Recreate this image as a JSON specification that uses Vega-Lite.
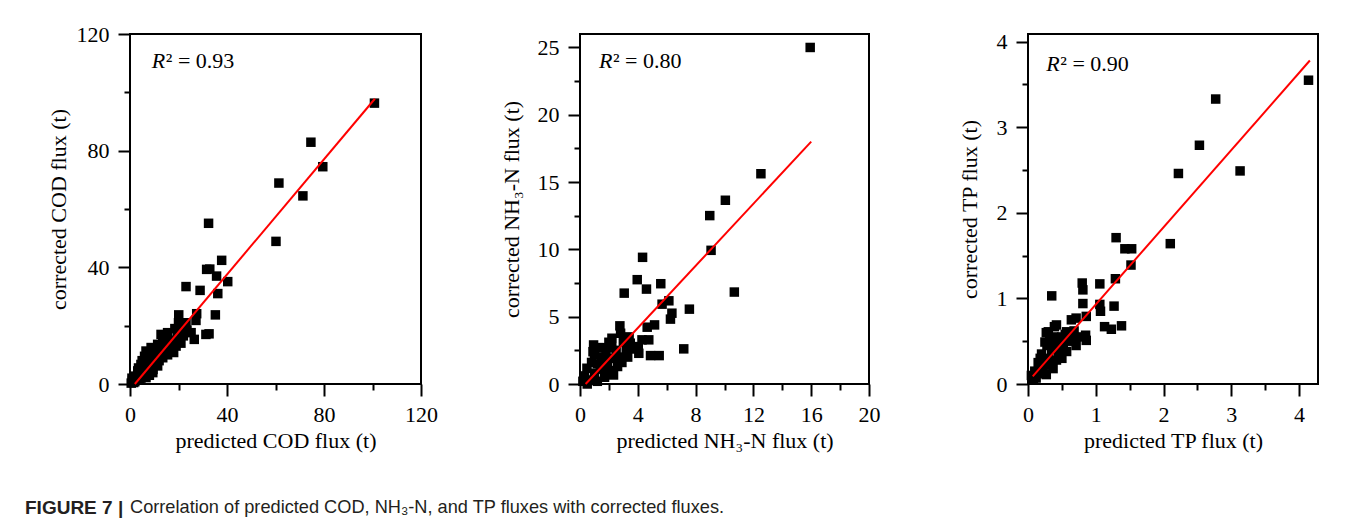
{
  "$schema": "https://vega.github.io/schema/vega-lite/v6.json",
  "padding": {"left": 25, "top": 22, "right": 0, "bottom": 0},
  "background": "white",
  "datasets": {
    "cod": [
      {"predicted":100.8,"corrected":96.3},{"predicted":74.6,"corrected":82.9},{"predicted":79.5,"corrected":74.5},{"predicted":61.4,"corrected":68.9},{"predicted":71.3,"corrected":64.5},{"predicted":60.2,"corrected":48.9},{"predicted":32.4,"corrected":55.1},{"predicted":37.8,"corrected":42.4},{"predicted":31.6,"corrected":39.3},{"predicted":32.9,"corrected":39.4},{"predicted":35.7,"corrected":37.0},{"predicted":40.3,"corrected":35.1},{"predicted":23.1,"corrected":33.4},{"predicted":28.9,"corrected":32.1},{"predicted":36.2,"corrected":31.0},{"predicted":35.2,"corrected":23.7},{"predicted":20.1,"corrected":23.7},{"predicted":27.5,"corrected":24.1},{"predicted":27.2,"corrected":21.8},{"predicted":23.1,"corrected":21.0},{"predicted":21.7,"corrected":19.3},{"predicted":25.2,"corrected":17.6},{"predicted":31.3,"corrected":17.0},{"predicted":32.6,"corrected":17.2},{"predicted":26.5,"corrected":15.3},{"predicted":15.5,"corrected":17.6},{"predicted":12.8,"corrected":17.0},{"predicted":17.0,"corrected":15.0},{"predicted":14.1,"corrected":14.7},{"predicted":11.4,"corrected":13.6},{"predicted":8.7,"corrected":12.5},{"predicted":6.6,"corrected":11.3},{"predicted":16.2,"corrected":11.9},{"predicted":18.0,"corrected":10.8},{"predicted":13.5,"corrected":9.0},{"predicted":11.4,"corrected":6.2},{"predicted":9.4,"corrected":3.9},{"predicted":6.6,"corrected":2.2},{"predicted":3.8,"corrected":1.3},{"predicted":4.5,"corrected":6.7},{"predicted":3.2,"corrected":4.5},{"predicted":2.0,"corrected":2.7},{"predicted":1.0,"corrected":1.0},{"predicted":1.5,"corrected":0.5},{"predicted":2.5,"corrected":1.5},{"predicted":3.0,"corrected":2.5},{"predicted":4.0,"corrected":3.0},{"predicted":5.0,"corrected":4.0},{"predicted":5.5,"corrected":6.0},{"predicted":6.0,"corrected":5.0},{"predicted":7.0,"corrected":4.5},{"predicted":7.5,"corrected":7.0},{"predicted":8.0,"corrected":8.5},{"predicted":8.5,"corrected":6.0},{"predicted":9.0,"corrected":9.5},{"predicted":9.5,"corrected":11.0},{"predicted":10.0,"corrected":7.5},{"predicted":10.5,"corrected":10.0},{"predicted":11.0,"corrected":12.0},{"predicted":12.0,"corrected":8.0},{"predicted":12.0,"corrected":11.0},{"predicted":13.0,"corrected":12.5},{"predicted":14.0,"corrected":11.0},{"predicted":15.0,"corrected":13.0},{"predicted":15.5,"corrected":10.0},{"predicted":16.5,"corrected":13.5},{"predicted":17.5,"corrected":12.0},{"predicted":19.0,"corrected":13.0},{"predicted":19.5,"corrected":17.0},{"predicted":20.5,"corrected":16.0},{"predicted":21.0,"corrected":14.0},{"predicted":22.0,"corrected":16.5},{"predicted":23.5,"corrected":18.5},{"predicted":5.0,"corrected":8.0},{"predicted":6.0,"corrected":9.5},{"predicted":7.0,"corrected":10.5},{"predicted":8.0,"corrected":3.0},{"predicted":4.5,"corrected":2.0},{"predicted":2.0,"corrected":0.8},{"predicted":0.5,"corrected":0.3},{"predicted":3.5,"corrected":5.5},{"predicted":9.5,"corrected":5.0},{"predicted":11.5,"corrected":9.5},{"predicted":13.5,"corrected":14.5},{"predicted":18.5,"corrected":19.0},{"predicted":20.0,"corrected":21.0},{"predicted":0.8,"corrected":2.0}
    ],
    "nh3": [
      {"predicted":15.93,"corrected":25.0},{"predicted":12.52,"corrected":15.62},{"predicted":10.06,"corrected":13.65},{"predicted":8.98,"corrected":12.51},{"predicted":9.07,"corrected":9.93},{"predicted":10.68,"corrected":6.83},{"predicted":4.33,"corrected":9.41},{"predicted":3.96,"corrected":7.75},{"predicted":4.6,"corrected":7.05},{"predicted":5.59,"corrected":7.45},{"predicted":3.06,"corrected":6.75},{"predicted":7.57,"corrected":5.56},{"predicted":6.15,"corrected":6.18},{"predicted":5.68,"corrected":5.93},{"predicted":6.36,"corrected":5.26},{"predicted":6.26,"corrected":4.82},{"predicted":5.16,"corrected":4.39},{"predicted":4.65,"corrected":4.22},{"predicted":4.76,"corrected":3.28},{"predicted":4.88,"corrected":2.11},{"predicted":5.48,"corrected":2.11},{"predicted":7.18,"corrected":2.61},{"predicted":2.76,"corrected":4.32},{"predicted":2.81,"corrected":3.77},{"predicted":4.03,"corrected":2.78},{"predicted":4.07,"corrected":2.28},{"predicted":4.29,"corrected":3.28},{"predicted":3.48,"corrected":3.03},{"predicted":3.2,"corrected":2.5},{"predicted":2.21,"corrected":3.4},{"predicted":2.0,"corrected":3.1},{"predicted":0.94,"corrected":2.9},{"predicted":1.3,"corrected":2.7},{"predicted":1.6,"corrected":2.7},{"predicted":0.9,"corrected":2.4},{"predicted":1.0,"corrected":2.2},{"predicted":1.8,"corrected":2.2},{"predicted":2.3,"corrected":1.9},{"predicted":1.5,"corrected":2.0},{"predicted":2.6,"corrected":1.3},{"predicted":2.32,"corrected":0.67},{"predicted":2.5,"corrected":2.5},{"predicted":3.0,"corrected":3.1},{"predicted":3.3,"corrected":2.0},{"predicted":3.6,"corrected":2.6},{"predicted":2.9,"corrected":1.6},{"predicted":1.2,"corrected":1.5},{"predicted":0.8,"corrected":1.6},{"predicted":0.48,"corrected":1.17},{"predicted":0.3,"corrected":0.6},{"predicted":0.6,"corrected":0.3},{"predicted":1.0,"corrected":0.8},{"predicted":1.4,"corrected":1.1},{"predicted":1.7,"corrected":0.5},{"predicted":2.0,"corrected":1.0},{"predicted":1.9,"corrected":1.6},{"predicted":0.2,"corrected":0.2},{"predicted":0.5,"corrected":0.0},{"predicted":1.2,"corrected":0.2},{"predicted":2.7,"corrected":2.0},{"predicted":3.4,"corrected":3.5},{"predicted":1.6,"corrected":1.4},{"predicted":2.2,"corrected":2.7}
    ],
    "tp": [
      {"predicted":4.14,"corrected":3.55},{"predicted":2.77,"corrected":3.33},{"predicted":2.53,"corrected":2.79},{"predicted":3.13,"corrected":2.49},{"predicted":2.22,"corrected":2.46},{"predicted":2.1,"corrected":1.64},{"predicted":1.3,"corrected":1.71},{"predicted":1.43,"corrected":1.58},{"predicted":1.53,"corrected":1.58},{"predicted":1.52,"corrected":1.39},{"predicted":1.29,"corrected":1.23},{"predicted":1.06,"corrected":1.17},{"predicted":0.8,"corrected":1.18},{"predicted":0.81,"corrected":1.1},{"predicted":0.81,"corrected":0.94},{"predicted":0.35,"corrected":1.03},{"predicted":1.27,"corrected":0.91},{"predicted":1.06,"corrected":0.93},{"predicted":1.07,"corrected":0.85},{"predicted":1.38,"corrected":0.68},{"predicted":1.13,"corrected":0.67},{"predicted":1.23,"corrected":0.64},{"predicted":0.86,"corrected":0.79},{"predicted":0.85,"corrected":0.57},{"predicted":0.86,"corrected":0.51},{"predicted":0.71,"corrected":0.77},{"predicted":0.64,"corrected":0.75},{"predicted":0.39,"corrected":0.67},{"predicted":0.42,"corrected":0.69},{"predicted":0.27,"corrected":0.6},{"predicted":0.3,"corrected":0.61},{"predicted":0.71,"corrected":0.45},{"predicted":0.57,"corrected":0.61},{"predicted":0.55,"corrected":0.58},{"predicted":0.5,"corrected":0.55},{"predicted":0.57,"corrected":0.38},{"predicted":0.5,"corrected":0.3},{"predicted":0.37,"corrected":0.18},{"predicted":0.27,"corrected":0.11},{"predicted":0.12,"corrected":0.07},{"predicted":0.25,"corrected":0.49},{"predicted":0.2,"corrected":0.35},{"predicted":0.15,"corrected":0.25},{"predicted":0.1,"corrected":0.15},{"predicted":0.3,"corrected":0.3},{"predicted":0.35,"corrected":0.4},{"predicted":0.4,"corrected":0.5},{"predicted":0.45,"corrected":0.35},{"predicted":0.33,"corrected":0.22},{"predicted":0.22,"corrected":0.18},{"predicted":0.18,"corrected":0.3},{"predicted":0.28,"corrected":0.45},{"predicted":0.42,"corrected":0.28},{"predicted":0.6,"corrected":0.5},{"predicted":0.65,"corrected":0.52},{"predicted":0.48,"corrected":0.42},{"predicted":0.38,"corrected":0.55},{"predicted":0.08,"corrected":0.05},{"predicted":0.05,"corrected":0.1},{"predicted":0.2,"corrected":0.12},{"predicted":0.26,"corrected":0.25},{"predicted":0.32,"corrected":0.5},{"predicted":0.52,"corrected":0.45},{"predicted":0.75,"corrected":0.55},{"predicted":0.68,"corrected":0.62}
    ],
    "fit": [
      {"panel":"COD","predicted":2.0,"corrected":0},{"panel":"COD","predicted":101,"corrected":97.8},
      {"panel":"NH3","predicted":0.39,"corrected":0},{"panel":"NH3","predicted":16.0,"corrected":18.0},
      {"panel":"TP","predicted":0.07,"corrected":0.09},{"panel":"TP","predicted":4.16,"corrected":3.78}
    ],
    "r2": [
      {"panel":"COD","label":"² = 0.93"},
      {"panel":"NH3","label":"² = 0.80"},
      {"panel":"TP","label":"² = 0.90"}
    ],
    "caption": [
      {"fig":"FIGURE 7 |","text":"Correlation of predicted COD, NH₃-N, and TP fluxes with corrected fluxes."}
    ]
  },
  "vconcat": [
    {
      "hconcat": [
        {
          "width": 291, "height": 350,
          "layer": [
            {"data":{"name":"cod"},
             "mark":{"type":"square","filled":true,"color":"black","size":90,"opacity":1},
             "encoding":{
               "x":{"field":"predicted","type":"quantitative","scale":{"domain":[0,120],"nice":false},
                    "axis":{"orient":"bottom","values":[0,40,80,120],"title":"predicted COD flux (t)"}},
               "y":{"field":"corrected","type":"quantitative","scale":{"domain":[0,120],"nice":false},
                    "axis":{"orient":"left","values":[0,40,80,120],"title":"corrected COD flux (t)","titlePadding":6}}}},
            {"data":{"name":"fit"},"transform":[{"filter":"datum.panel === 'COD'"}],
             "mark":{"type":"line","color":"#ff0000","strokeWidth":2},
             "encoding":{
               "x":{"field":"predicted","type":"quantitative","scale":{"domain":[0,120],"nice":false},
                    "axis":{"orient":"bottom","values":[20,60,100],"labels":false,"title":null,"tickSize":6}},
               "y":{"field":"corrected","type":"quantitative","scale":{"domain":[0,120],"nice":false},
                    "axis":{"orient":"left","values":[20,60,100],"labels":false,"title":null,"tickSize":6}}}},
            {"data":{"name":"r2"},"transform":[{"filter":"datum.panel === 'COD'"}],
             "mark":{"type":"text","text":"R","fontStyle":"italic","font":"Liberation Serif","fontSize":22,"align":"left","baseline":"middle","color":"black"},
             "encoding":{"x":{"datum":9.0,"type":"quantitative","axis":null},"y":{"datum":110.7,"type":"quantitative","axis":null}}},
            {"data":{"name":"r2"},"transform":[{"filter":"datum.panel === 'COD'"}],
             "mark":{"type":"text","font":"Liberation Serif","fontSize":22,"align":"left","baseline":"middle","color":"black","dx":14},
             "encoding":{"x":{"datum":9.0,"type":"quantitative","axis":null},"y":{"datum":110.7,"type":"quantitative","axis":null},"text":{"field":"label"}}}
          ],
          "resolve":{"axis":{"x":"independent","y":"independent"}}
        },
        {
          "width": 289, "height": 350,
          "layer": [
            {"data":{"name":"nh3"},
             "mark":{"type":"square","filled":true,"color":"black","size":90,"opacity":1},
             "encoding":{
               "x":{"field":"predicted","type":"quantitative","scale":{"domain":[0,20],"nice":false},
                    "axis":{"orient":"bottom","values":[0,4,8,12,16,20],"title":"predicted NH₃-N flux (t)"}},
               "y":{"field":"corrected","type":"quantitative","scale":{"domain":[0,26],"nice":false},
                    "axis":{"orient":"left","values":[0,5,10,15,20,25],"title":"corrected NH₃-N flux (t)","titlePadding":14}}}},
            {"data":{"name":"fit"},"transform":[{"filter":"datum.panel === 'NH3'"}],
             "mark":{"type":"line","color":"#ff0000","strokeWidth":2},
             "encoding":{
               "x":{"field":"predicted","type":"quantitative","scale":{"domain":[0,20],"nice":false},
                    "axis":{"orient":"bottom","values":[2,6,10,14,18],"labels":false,"title":null,"tickSize":6}},
               "y":{"field":"corrected","type":"quantitative","scale":{"domain":[0,26],"nice":false},
                    "axis":{"orient":"left","values":[2.5,7.5,12.5,17.5,22.5],"labels":false,"title":null,"tickSize":6}}}},
            {"data":{"name":"r2"},"transform":[{"filter":"datum.panel === 'NH3'"}],
             "mark":{"type":"text","text":"R","fontStyle":"italic","font":"Liberation Serif","fontSize":22,"align":"left","baseline":"middle","color":"black"},
             "encoding":{"x":{"datum":1.31,"type":"quantitative","axis":null},"y":{"datum":24.0,"type":"quantitative","axis":null}}},
            {"data":{"name":"r2"},"transform":[{"filter":"datum.panel === 'NH3'"}],
             "mark":{"type":"text","font":"Liberation Serif","fontSize":22,"align":"left","baseline":"middle","color":"black","dx":14},
             "encoding":{"x":{"datum":1.31,"type":"quantitative","axis":null},"y":{"datum":24.0,"type":"quantitative","axis":null},"text":{"field":"label"}}}
          ],
          "resolve":{"axis":{"x":"independent","y":"independent"}}
        },
        {
          "width": 290, "height": 350,
          "layer": [
            {"data":{"name":"tp"},
             "mark":{"type":"square","filled":true,"color":"black","size":90,"opacity":1},
             "encoding":{
               "x":{"field":"predicted","type":"quantitative","scale":{"domain":[0,4.28],"nice":false},
                    "axis":{"orient":"bottom","values":[0,1,2,3,4],"title":"predicted TP flux (t)"}},
               "y":{"field":"corrected","type":"quantitative","scale":{"domain":[0,4.09],"nice":false},
                    "axis":{"orient":"left","values":[0,1,2,3,4],"title":"corrected TP flux (t)","titlePadding":15}}}},
            {"data":{"name":"fit"},"transform":[{"filter":"datum.panel === 'TP'"}],
             "mark":{"type":"line","color":"#ff0000","strokeWidth":2},
             "encoding":{
               "x":{"field":"predicted","type":"quantitative","scale":{"domain":[0,4.28],"nice":false},
                    "axis":{"orient":"bottom","values":[0.5,1.5,2.5,3.5],"labels":false,"title":null,"tickSize":6}},
               "y":{"field":"corrected","type":"quantitative","scale":{"domain":[0,4.09],"nice":false},
                    "axis":{"orient":"left","values":[0.5,1.5,2.5,3.5],"labels":false,"title":null,"tickSize":6}}}},
            {"data":{"name":"r2"},"transform":[{"filter":"datum.panel === 'TP'"}],
             "mark":{"type":"text","text":"R","fontStyle":"italic","font":"Liberation Serif","fontSize":22,"align":"left","baseline":"middle","color":"black"},
             "encoding":{"x":{"datum":0.27,"type":"quantitative","axis":null},"y":{"datum":3.74,"type":"quantitative","axis":null}}},
            {"data":{"name":"r2"},"transform":[{"filter":"datum.panel === 'TP'"}],
             "mark":{"type":"text","font":"Liberation Serif","fontSize":22,"align":"left","baseline":"middle","color":"black","dx":14},
             "encoding":{"x":{"datum":0.27,"type":"quantitative","axis":null},"y":{"datum":3.74,"type":"quantitative","axis":null},"text":{"field":"label"}}}
          ],
          "resolve":{"axis":{"x":"independent","y":"independent"}}
        }
      ],
      "spacing": 159,
      "bounds": "flush"
    },
    {
      "width": 700, "height": 20,
      "view": {"stroke": null},
      "data": {"name": "caption"},
      "layer": [
        {"mark":{"type":"text","align":"left","baseline":"middle","font":"Liberation Sans","fontSize":19,"fontWeight":"bold","color":"#231f20","dx":-105},
         "encoding":{"x":{"datum":0,"type":"quantitative","scale":{"domain":[0,1]},"axis":null},"text":{"field":"fig"}}},
        {"mark":{"type":"text","align":"left","baseline":"middle","font":"Liberation Sans","fontSize":18.2,"fontWeight":"normal","color":"#231f20","dx":0},
         "encoding":{"x":{"datum":0,"type":"quantitative","scale":{"domain":[0,1]},"axis":null},"text":{"field":"text"}}}
      ]
    }
  ],
  "spacing": 46,
  "config": {
    "view": {"stroke": "black", "strokeWidth": 2},
    "font": "Liberation Serif",
    "axis": {
      "domain": false, "grid": false, "ticks": true,
      "tickColor": "black", "tickWidth": 2, "tickSize": 12,
      "labelFont": "Liberation Serif", "labelFontSize": 22, "labelColor": "black",
      "labelPadding": 8, "labelFlush": false, "labelOverlap": false,
      "titleFont": "Liberation Serif", "titleFontSize": 22, "titleFontWeight": "normal", "titleColor": "black"
    },
    "axisX": {"titlePadding": 5, "labelFont": "Liberation Serif", "labelFontSize": 22, "titleFont": "Liberation Serif"},
    "axisY": {"labelPadding": 9, "labelFont": "Liberation Serif", "labelFontSize": 22, "titleFont": "Liberation Serif"}
  }
}
